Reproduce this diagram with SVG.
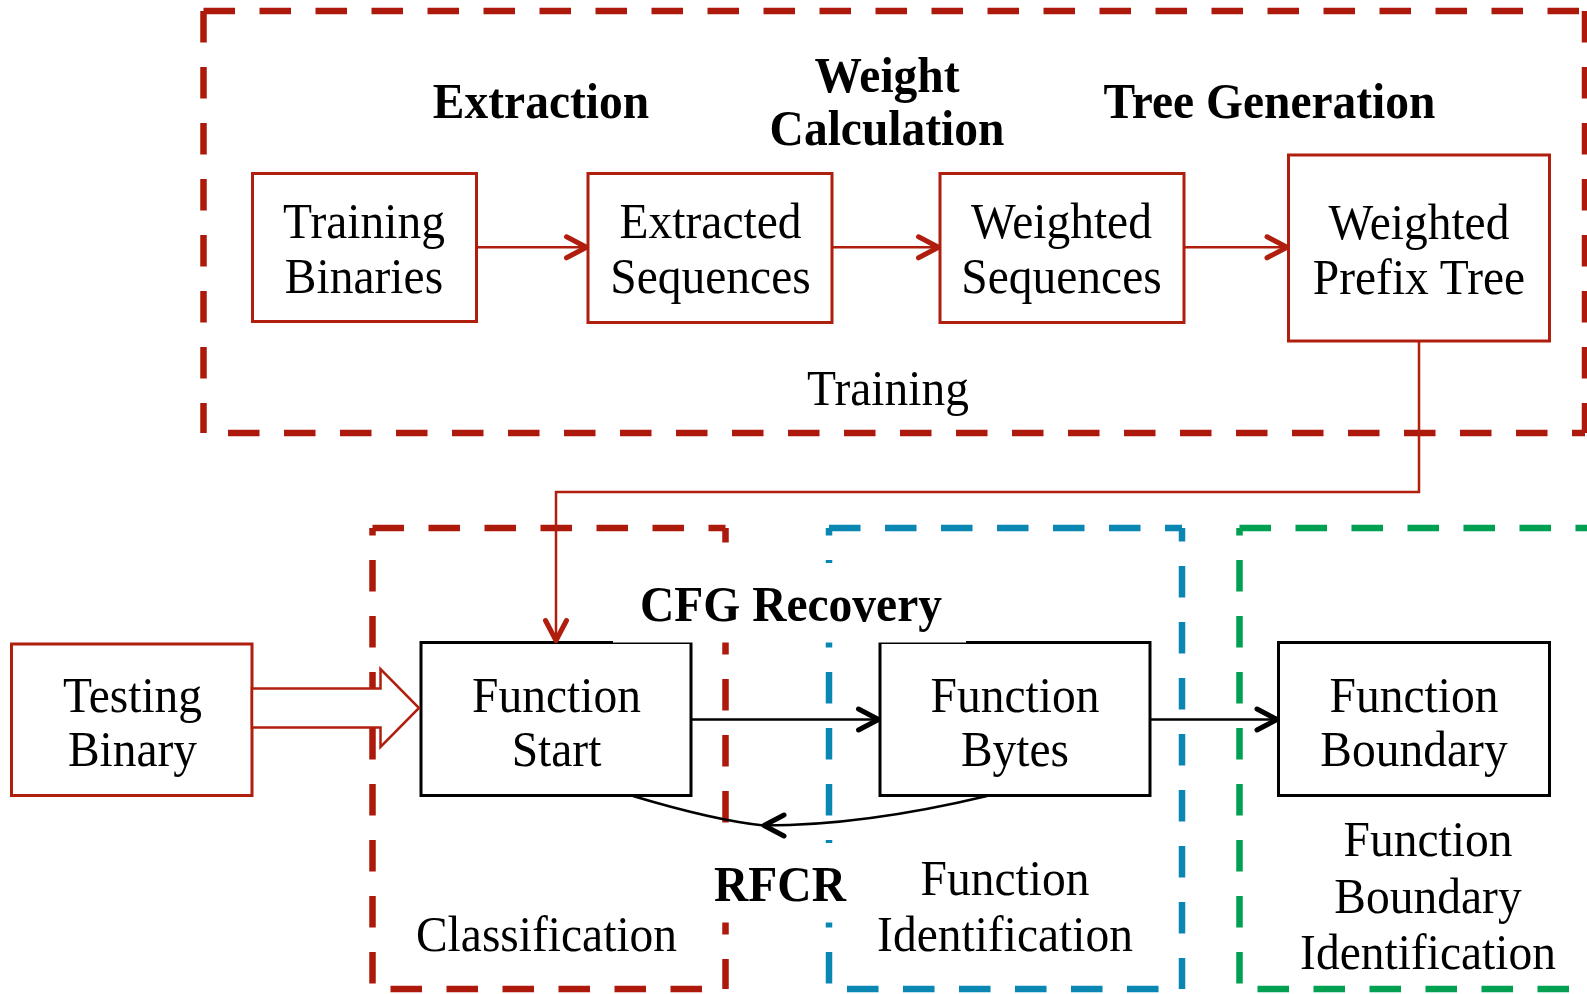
<svg xmlns="http://www.w3.org/2000/svg" width="1587" height="994" viewBox="0 0 1587 994">
  <style>
    .frame { fill: none; stroke-width: 6.5; stroke-dasharray: 31.5 24.5; }
    .red-frame { stroke: #AD1A0B; }
    .blue-frame { stroke: #0A86B3; }
    .green-frame { stroke: #00A052; }
    .node-red { fill: #FFFFFF; stroke: #B01E0E; stroke-width: 3; }
    .node-black { fill: #FFFFFF; stroke: #000000; stroke-width: 3; }
    .txt { font-family: "Liberation Serif", "Times New Roman", serif; font-size: 50px; fill: #000000; text-anchor: middle; }
    .bold { font-weight: bold; }
    .link-red { fill: none; stroke: #B01E0E; stroke-width: 2.5; }
    .link-black { fill: none; stroke: #000000; stroke-width: 2.5; }
    .mask { fill: #FFFFFF; stroke: none; }
  </style>
  <defs>
    <marker id="chevron-red" markerUnits="userSpaceOnUse" markerWidth="30" markerHeight="30" refX="0" refY="0" viewBox="-26 -15 30 30" orient="auto" overflow="visible">
      <path d="M-20,-10.5 L0,0 L-20,10.5" fill="none" stroke="#B01E0E" stroke-width="5" stroke-linecap="round" stroke-linejoin="round"/>
    </marker>
    <marker id="chevron-black" markerUnits="userSpaceOnUse" markerWidth="30" markerHeight="30" refX="0" refY="0" viewBox="-26 -15 30 30" orient="auto" overflow="visible">
      <path d="M-20,-10.5 L0,0 L-20,10.5" fill="none" stroke="#000000" stroke-width="5" stroke-linecap="round" stroke-linejoin="round"/>
    </marker>
  </defs>

  <rect x="0" y="0" width="1587" height="994" fill="#FFFFFF"/>

  <!-- dashed stage frames, one line per side so each side starts its dash at the corner -->
  <g id="frame-training" class="frame red-frame">
    <line x1="203.5" y1="11" x2="1585" y2="11"/>
    <line x1="203.5" y1="11" x2="203.5" y2="433"/>
    <line x1="1585" y1="11" x2="1585" y2="433"/>
    <line x1="203.5" y1="433" x2="1585" y2="433" stroke-dashoffset="31.5"/>
  </g>
  <g id="frame-classification" class="frame red-frame">
    <line x1="372.5" y1="528" x2="725.5" y2="528"/>
    <line x1="372.5" y1="528" x2="372.5" y2="989" stroke-dashoffset="24"/>
    <line x1="725.5" y1="528" x2="725.5" y2="989" stroke-dashoffset="17"/>
    <line x1="372.5" y1="989" x2="725.5" y2="989" stroke-dashoffset="38"/>
  </g>
  <g id="frame-function-identification" class="frame blue-frame">
    <line x1="829" y1="528" x2="1182" y2="528"/>
    <line x1="829" y1="528" x2="829" y2="989" stroke-dashoffset="24"/>
    <line x1="1182" y1="528" x2="1182" y2="989" stroke-dashoffset="18"/>
    <line x1="829" y1="989" x2="1182" y2="989" stroke-dashoffset="38"/>
  </g>
  <g id="frame-boundary-identification" class="frame green-frame">
    <line x1="1239.5" y1="528" x2="1600" y2="528"/>
    <line x1="1239.5" y1="528" x2="1239.5" y2="989" stroke-dashoffset="24"/>
    <line x1="1239.5" y1="989" x2="1600" y2="989" stroke-dashoffset="38"/>
  </g>

  <!-- training pipeline nodes -->
  <g id="node-training-binaries">
    <rect class="node-red" x="252.5" y="173.5" width="224" height="148"/>
    <text class="txt" transform="translate(364,238.3) scale(0.95,1)"><tspan x="0" y="0">Training</tspan><tspan x="0" y="55">Binaries</tspan></text>
  </g>
  <g id="node-extracted-sequences">
    <rect class="node-red" x="588" y="173.5" width="244" height="149"/>
    <text class="txt" transform="translate(710.5,238.3) scale(0.95,1)"><tspan x="0" y="0">Extracted</tspan><tspan x="0" y="55">Sequences</tspan></text>
  </g>
  <g id="node-weighted-sequences">
    <rect class="node-red" x="940" y="173.5" width="244" height="149"/>
    <text class="txt" transform="translate(1061.5,238.3) scale(0.95,1)"><tspan x="0" y="0">Weighted</tspan><tspan x="0" y="55">Sequences</tspan></text>
  </g>
  <g id="node-weighted-prefix-tree">
    <rect class="node-red" x="1288.5" y="155" width="261" height="186"/>
    <text class="txt" transform="translate(1419,238.8) scale(0.95,1)"><tspan x="0" y="0">Weighted</tspan><tspan x="0" y="55">Prefix Tree</tspan></text>
  </g>

  <!-- testing pipeline nodes -->
  <g id="node-testing-binary">
    <rect class="node-red" x="11.5" y="644" width="240.5" height="151.5"/>
    <text class="txt" transform="translate(132.5,711.5) scale(0.95,1)"><tspan x="0" y="0">Testing</tspan><tspan x="0" y="54.5">Binary</tspan></text>
  </g>
  <g id="node-function-start">
    <rect class="node-black" x="421" y="642.5" width="270" height="153"/>
    <text class="txt" transform="translate(556.5,711.5) scale(0.95,1)"><tspan x="0" y="0">Function</tspan><tspan x="0" y="54.5">Start</tspan></text>
  </g>
  <g id="node-function-bytes">
    <rect class="node-black" x="880" y="642.5" width="270" height="153"/>
    <text class="txt" transform="translate(1015,711.5) scale(0.95,1)"><tspan x="0" y="0">Function</tspan><tspan x="0" y="54.5">Bytes</tspan></text>
  </g>
  <g id="node-function-boundary">
    <rect class="node-black" x="1278.5" y="642.5" width="271" height="153"/>
    <text class="txt" transform="translate(1414,711.5) scale(0.95,1)"><tspan x="0" y="0">Function</tspan><tspan x="0" y="54.5">Boundary</tspan></text>
  </g>

  <!-- stage labels with white backing where they sit across frame edges -->
  <g id="label-cfg-recovery">
    <rect class="mask" x="613" y="563" width="353" height="79.5"/>
    <text class="txt bold" transform="translate(791,621) scale(0.95,1)">CFG Recovery</text>
  </g>
  <g id="label-rfcr">
    <rect class="mask" x="700" y="843" width="160" height="79.5"/>
    <text class="txt bold" transform="translate(780,900.5) scale(0.95,1)">RFCR</text>
  </g>

  <!-- connectors -->
  <g id="connectors">
    <path class="link-red" d="M476.5,247.3 H586.5" marker-end="url(#chevron-red)"/>
    <path class="link-red" d="M832,247.3 H938.5" marker-end="url(#chevron-red)"/>
    <path class="link-red" d="M1184,247.3 H1287" marker-end="url(#chevron-red)"/>
    <path class="link-red" d="M1419,341 V492 H556 V640.5" marker-end="url(#chevron-red)"/>
    <path fill="#FFFFFF" stroke="#B01E0E" stroke-width="2.5" stroke-linejoin="miter" d="M252,688.5 H380.5 V669 L419,708 L380.5,747 V727.5 H252 Z"/>
    <path class="link-black" d="M691,719.5 H878.5" marker-end="url(#chevron-black)"/>
    <path class="link-black" d="M1150,719.5 H1277" marker-end="url(#chevron-black)"/>
    <path class="link-black" d="M987,796 Q864,825.5 764,825.5" marker-end="url(#chevron-black)"/>
    <path class="link-black" d="M764,825.5 Q715,820.6 633,796"/>
  </g>

  <!-- stage titles and captions -->
  <g id="labels">
    <text class="txt bold" transform="translate(541,118) scale(0.95,1)">Extraction</text>
    <text class="txt bold" transform="translate(887,92) scale(0.95,1)"><tspan x="0" y="0">Weight</tspan><tspan x="0" y="53">Calculation</tspan></text>
    <text class="txt bold" transform="translate(1269.5,118) scale(0.95,1)">Tree Generation</text>
    <text class="txt" transform="translate(888,405) scale(0.95,1)">Training</text>
    <text class="txt" transform="translate(546.5,951) scale(0.95,1)">Classification</text>
    <text class="txt" transform="translate(1005,894.7) scale(0.95,1)"><tspan x="0" y="0">Function</tspan><tspan x="0" y="56.6">Identification</tspan></text>
    <text class="txt" transform="translate(1428,856) scale(0.95,1)"><tspan x="0" y="0">Function</tspan><tspan x="0" y="56.8">Boundary</tspan><tspan x="0" y="113.5">Identification</tspan></text>
  </g>
</svg>
